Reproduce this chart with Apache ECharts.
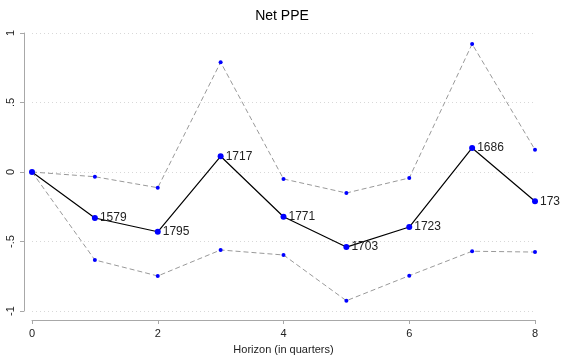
<!DOCTYPE html>
<html>
<head>
<meta charset="utf-8">
<script src="https://cdn.jsdelivr.net/npm/echarts@6/dist/echarts.min.js"></script>
<style>
  html, body { margin: 0; padding: 0; background: #fff; }
  #chart { width: 564px; height: 358px; }
</style>
</head>
<body>
<div id="chart"></div>
<script>
// horizon in quarters
const horizon = [0, 1, 2, 3, 4, 5, 6, 7, 8]
// point estimate and confidence bounds
const estimate = [0, -0.331, -0.43, 0.113, -0.322, -0.54, -0.396, 0.173, -0.211]
const upper = [0, -0.034, -0.113, 0.79, -0.05, -0.151, -0.043, 0.921, 0.16]
const lower = [0, -0.633, -0.748, -0.561, -0.597, -0.926, -0.746, -0.57, -0.576]
// observation counts printed next to the estimates
const obsLabels = ['', '1579', '1795', '1717', '1771', '1703', '1723', '1686', '173']
const yTickLabels = { '1': '1', '0.5': '.5', '0': '0', '-0.5': '-.5', '-1': '-1' }

const pairs = arr => horizon.map((h, i) => [h, arr[i]])

let myChart = echarts.init(document.getElementById('chart'))
const font = 'Liberation Sans, Arial, sans-serif'

let option = {
  animation: false,
  title: {
    text: 'Net PPE',
    left: 'center',
    top: 4,
    textStyle: { fontFamily: font, fontSize: 14, fontWeight: 'normal', color: '#000' }
  },
  grid: { left: 32, right: 29, top: 33, bottom: 47, outerBoundsMode: 'none', containLabel: false },
  xAxis: {
    type: 'value',
    min: 0,
    max: 8,
    interval: 2,
    offset: 9,
    name: 'Horizon (in quarters)',
    nameLocation: 'middle',
    nameGap: 24,
    nameTextStyle: { fontFamily: font, fontSize: 11, color: '#222' },
    axisLine: { show: true, onZero: false, lineStyle: { color: '#a8a8a8', width: 1 } },
    axisTick: { show: true, length: 4, lineStyle: { color: '#a8a8a8' } },
    axisLabel: { fontFamily: font, fontSize: 11, color: '#222', margin: 8 },
    splitLine: { show: false }
  },
  yAxis: {
    type: 'value',
    min: -1,
    max: 1,
    interval: 0.5,
    offset: 8,
    axisLine: { show: true, onZero: false, lineStyle: { color: '#a8a8a8', width: 1 } },
    axisTick: { show: true, length: 4, lineStyle: { color: '#a8a8a8' } },
    axisLabel: {
      fontFamily: font, fontSize: 11, color: '#222', rotate: 90, margin: 8,
      formatter: v => yTickLabels[String(v)] ?? String(v)
    },
    splitLine: { show: true, lineStyle: { color: '#d8d8d8', type: [1, 3], width: 1 } }
  },
  series: [
    {
      type: 'line',
      data: pairs(upper),
      symbol: 'circle',
      symbolSize: 4,
      itemStyle: { color: '#0000ff' },
      lineStyle: { color: '#999', width: 1, type: [5, 3] },
      z: 2
    },
    {
      type: 'line',
      data: pairs(lower),
      symbol: 'circle',
      symbolSize: 4,
      itemStyle: { color: '#0000ff' },
      lineStyle: { color: '#999', width: 1, type: [5, 3] },
      z: 2
    },
    {
      type: 'line',
      data: pairs(estimate),
      symbol: 'circle',
      symbolSize: 6,
      itemStyle: { color: '#0000ff' },
      lineStyle: { color: '#000', width: 1.2 },
      label: {
        show: true,
        position: 'right',
        distance: 2,
        fontFamily: font,
        fontSize: 12,
        color: '#222',
        formatter: p => obsLabels[p.dataIndex]
      },
      z: 3
    }
  ]
}
option && myChart.setOption(option)
</script>
</body>
</html>
